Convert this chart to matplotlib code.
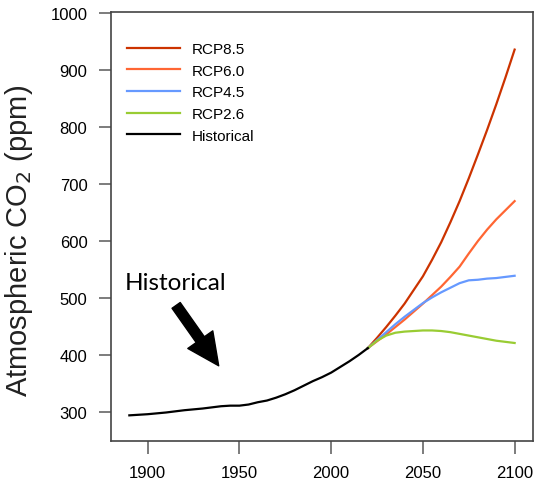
import matplotlib
matplotlib.use('Agg')
import matplotlib.pyplot as plt

plt.rcParams['font.family'] = ['Liberation Sans', 'DejaVu Sans']

# historical CO2 (ppm)
hist_years = [1890, 1900, 1910, 1920, 1930, 1940, 1945, 1950, 1955, 1960, 1965, 1970,
              1975, 1980, 1985, 1990, 1995, 2000, 2005, 2010, 2015, 2020]
hist_co2 = [294, 296, 299, 303, 306, 310, 311, 311, 313, 317, 320, 325,
            331, 338, 346, 354, 361, 369, 379, 389, 400, 412]

# scenarios, 5-year steps 2020-2100
rcp_years = list(range(2020, 2101, 5))
rcp85 = [412, 430, 449, 469, 490, 514, 538, 567, 598, 633, 670, 710, 752, 795, 840, 887, 936]
rcp60 = [412, 424, 436, 449, 462, 476, 490, 505, 520, 537, 555, 578, 600, 620, 638, 654, 670]
rcp45 = [412, 426, 440, 454, 467, 479, 491, 501, 510, 518, 526, 531, 532, 534, 535, 537, 539]
rcp26 = [412, 425, 434, 439, 441, 442, 443, 443, 442, 440, 437, 434, 431, 428, 425, 423, 421]

labels = ['RCP8.5', 'RCP6.0', 'RCP4.5', 'RCP2.6', 'Historical']
colors = ['#CC3300', '#FF6633', '#6699FF', '#99CC33', 'black']

fig = plt.figure(figsize=(5.37, 4.85), dpi=100)
ax = fig.add_axes([0.2067, 0.0887, 0.9925 - 0.2067, 0.9732 - 0.0887])

for data, lab, c in zip([rcp85, rcp60, rcp45, rcp26], labels[:4], colors[:4]):
    ax.plot(rcp_years, data, color=c, lw=1.6, label=lab)
ax.plot(hist_years, hist_co2, color='black', lw=1.6, label='Historical')

ax.set_xlim(1880, 2110)
ax.set_ylim(249, 1002)
ax.set_xticks([1900, 1950, 2000, 2050, 2100])
ax.set_yticks(range(300, 1001, 100))

for s in ax.spines.values():
    s.set_color('#444444')
    s.set_linewidth(1.2)
ax.tick_params(direction='out', length=9, width=1.2, color='#666666',
               labelsize=12, pad=8)

fig.text(0.036, 0.503, 'Atmospheric CO$_2$ (ppm)', rotation=90, ha='center', va='center',
         fontsize=21, color='#222222')

leg = ax.legend(loc='upper left', frameon=False, bbox_to_anchor=(0.005, 0.962),
                prop={'size': 11},
                handlelength=3.5, labelspacing=0.5, handletextpad=0.75)

ax.text(1887.5, 516, 'Historical', fontsize=17.5, family='Lato', va='baseline')
ax.annotate('', xy=(1938.7, 381), xytext=(1915.5, 487),
            arrowprops=dict(arrowstyle='simple,head_width=2.2,head_length=2.3,tail_width=0.72',
                            color='black', shrinkA=0, shrinkB=0, mutation_scale=10))

fig.savefig('out.png', dpi=100)
